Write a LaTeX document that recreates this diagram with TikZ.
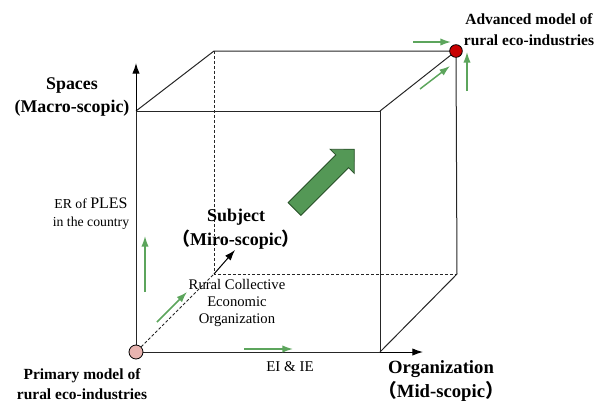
\documentclass[tikz,border=0pt]{standalone}
\usepackage{fontspec}
\setmainfont{Liberation Serif}
\newfontfamily\cjk{Noto Sans CJK SC}
\usetikzlibrary{arrows.meta}
\definecolor{lgreen}{RGB}{92,165,92}
\definecolor{bgreen}{RGB}{84,152,86}
\definecolor{bgreenline}{RGB}{40,80,40}
\definecolor{dotpink}{RGB}{232,180,176}
\definecolor{dotred}{RGB}{200,0,0}
\newcommand{\fwlp}{{\cjk （}}
\newcommand{\fwrp}{{\cjk ）}}
\begin{document}
\begin{tikzpicture}[x=0.75pt,y=-0.75pt,
  edge/.style={line width=0.75pt, draw=black!85},
  hidden/.style={line width=0.75pt, draw=black!85, dash pattern=on 2.2pt off 1.5pt},
  axisarrow/.style={line width=0.75pt, -{Latex[length=8pt,width=5.5pt]}},
  garrow/.style={draw=lgreen, line width=1.1pt, -{Latex[length=8pt,width=5.5pt]}},
  blbl/.style={align=center, inner sep=0pt},
  rlbl/.style={align=center, inner sep=0pt},
  dotnode/.style={circle, draw=black, line width=0.6pt, inner sep=0pt}
]
\useasboundingbox (0,0) rectangle (594,401);
% cube corners
\coordinate (FTL) at (136,111);
\coordinate (FTR) at (380,111);
\coordinate (FBL) at (136,352);
\coordinate (FBR) at (380,352);
\coordinate (BTL) at (214,51);
\coordinate (BTR) at (456,51);
\coordinate (BBL) at (214,274);
\coordinate (BBR) at (457,274);
% axis tips
\coordinate (spacetip) at (136,63);
\coordinate (orgtip) at (423,352);
\coordinate (subjtip) at (235,250);
% cube edges
\draw[edge] (FTL) rectangle (FBR);
\draw[edge] (FTL) -- (BTL) -- (BTR) -- (BBR) -- (FBR);
\draw[edge] (FTR) -- (BTR);
\draw[hidden] (BTL) -- (BBL) -- (BBR);
% axes
\draw[axisarrow] (FTL) -- (spacetip);
\draw[axisarrow] (FBR) -- (orgtip);
% dots
\node[dotnode, fill=dotpink, minimum size=10.5pt] (p) at (FBL) {};
\node[dotnode, fill=dotred, minimum size=9.5pt] (a) at (BTR) {};
\draw[hidden] (p) -- (BBL);
\draw[axisarrow] (BBL) -- (subjtip);
% small green arrows
\coordinate (g1s) at (145,292); \coordinate (g1e) at (145,236);
\coordinate (g2s) at (157,322); \coordinate (g2e) at (187,292);
\coordinate (g3s) at (244,349); \coordinate (g3e) at (293,349);
\coordinate (g4s) at (413,42);  \coordinate (g4e) at (451,42);
\coordinate (g5s) at (420,89);  \coordinate (g5e) at (450,66);
\coordinate (g6s) at (467,91);  \coordinate (g6e) at (467,52);
\draw[garrow] (g1s) -- (g1e);
\draw[garrow] (g2s) -- (g2e);
\draw[garrow] (g3s) -- (g3e);
\draw[garrow] (g4s) -- (g4e);
\draw[garrow] (g5s) -- (g5e);
\draw[garrow] (g6s) -- (g6e);
% big block arrow
\filldraw[fill=bgreen, draw=bgreenline, line width=0.6pt]
  (288.1,202.6) -- (335.8,154.9) -- (330.2,149.3) -- (354.3,149.2)
  -- (354.2,173.3) -- (348.6,167.7) -- (300.9,215.4) -- cycle;
% labels
\node[blbl, font=\fontsize{13.4}{17.2}\selectfont\bfseries] (spaces) at (72,97) {Spaces\\(Macro-scopic)};
\node[blbl, font=\fontsize{11.6}{15.7}\selectfont\bfseries] (adv) at (529,30) {Advanced model of\\rural eco-industries};
\node[blbl, font=\fontsize{11.6}{15}\selectfont\bfseries] (prim) at (82,384) {Primary model of\\rural eco-industries};
\node[blbl, font=\fontsize{14}{18.7}\selectfont\bfseries] (org) at (441,381) {Organization\\\fwlp Mid-scopic\fwrp};
\node[blbl, font=\fontsize{13.5}{18}\selectfont\bfseries] (subj) at (236,229) {Subject\\\fwlp Miro-scopic\fwrp};
\node[rlbl, font=\fontsize{10.3}{13.5}\selectfont] (er) at (91,214) {ER of {\fontsize{12}{13.5}\selectfont PLES}\\in the country};
\node[rlbl, font=\fontsize{11}{12.4}\selectfont] (rceo) at (237,303) {Rural Collective\\Economic\\Organization};
\node[rlbl, font=\fontsize{11.2}{12}\selectfont] (eiie) at (290,367) {EI \& IE};
\end{tikzpicture}
\end{document}
